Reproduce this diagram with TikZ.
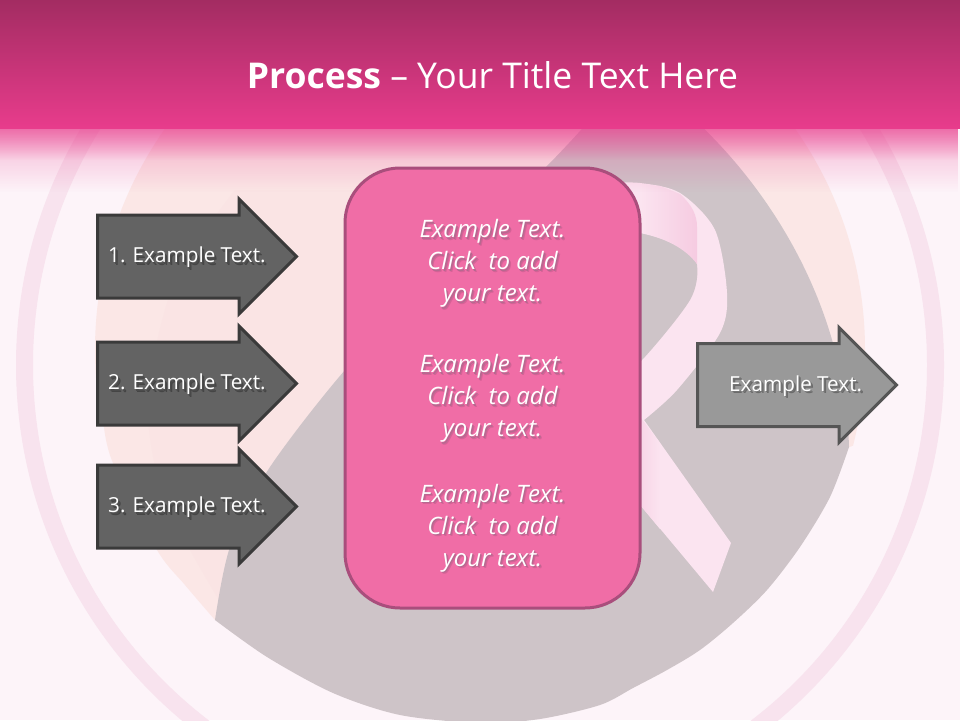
\documentclass[tikz,border=0pt]{standalone}
\usepackage{fontspec}
\setmainfont{Open Sans}
\usepackage{tikz}
\usetikzlibrary{ fadings, positioning, shapes.arrows}
\definecolor{pagepink}{HTML}{FDF4F9}
\definecolor{ringpink}{HTML}{F8E3EE}
\definecolor{discpeach}{HTML}{FBE7E6}
\definecolor{discinner}{HTML}{FAE4E4}
\definecolor{dropgray}{HTML}{CEC4C8}
\definecolor{ribbonpink}{HTML}{FBE4F0}
\definecolor{foldpink}{HTML}{F6CBE1}
\definecolor{headtop}{HTML}{A32C62}
\definecolor{headbot}{HTML}{E83C8C}
\definecolor{panelpink}{HTML}{F06DA6}
\definecolor{paneledge}{HTML}{A94E7C}
\definecolor{darkfill}{HTML}{636363}
\definecolor{darkedge}{HTML}{3A3A3A}
\definecolor{greyfill}{HTML}{999999}
\definecolor{greyedge}{HTML}{555555}
\tikzfading[name=headfadea, top color=transparent!40, bottom color=transparent!100]
\tikzfading[name=headfadeb, top color=transparent!65, bottom color=transparent!100]
% two offset copies stand for the soft text shadow
\newcommand{\softtext}[3]{\leavevmode\rlap{\kern2.4pt\raisebox{-2.4pt}{\color{#2}#3}}\rlap{\kern1.4pt\raisebox{-1.4pt}{\color{#1}#3}}#3}
\newcommand{\panellines}{\softtext{paneledge!85}{paneledge!35!panelpink}{Example Text.}\\\softtext{paneledge!85}{paneledge!35!panelpink}{Click\ \ to add}\\\softtext{paneledge!85}{paneledge!35!panelpink}{your text.}}
\tikzset{
procarrow/.style={shape=single arrow, single arrow head extend=16pt, single arrow tip angle=90, single arrow head indent=0pt, minimum height=199pt, inner xsep=0pt, inner ysep=40pt, line width=3pt, line join=miter}, % common outline of the arrows
inarrow/.style={procarrow, fill=darkfill, draw=darkedge},
outarrow/.style={procarrow, fill=greyfill, draw=greyedge},
armtext/.style={text=white, font=\fontsize{20.7pt}{24pt}\selectfont, inner sep=0pt, yshift=-2pt},
paneltext/.style={text=white, align=center, font=\fontsize{24pt}{32pt}\selectfont\itshape, inner sep=0pt},
}

\begin{document}
\begin{tikzpicture}[x=1pt,y=-1pt]%one unit is one pixel of the reference
  \useasboundingbox (0,0) rectangle (960,720);
  \clip (0,0) rectangle (960,720);
  \fill[pagepink] (0,0) rectangle (960,720);
  \fill[ringpink,even odd rule] (480,365) circle[radius=464] (480,365) circle[radius=447];
  \begin{scope}
    \clip (0,0) -- (960,0) -- (960,417) -- (849,447) -- plot[smooth] coordinates {(215,620) (185,585) (157,550) (113,463) (104,427)} -- (80,400) -- (0,400) -- cycle;
    \fill[discpeach] (480,350) circle[radius=385];
    \clip (480,350) circle[radius=385];
    \fill[discinner] plot[smooth] coordinates {(235,190) (175,280) (148,400) (165,500) (225,610)} -- (500,610) -- (500,190) -- cycle;
  \end{scope}

  % grey drop and ribbon, then the fade of the header over them
  \fill[dropgray] plot[smooth] coordinates {(215,620) (230,547) (268,470) (345,370) (445,265) (545,168) (590,120)}
    -- (695,120) .. controls (775,195) and (845,310) .. (849,447)
    -- plot[smooth] coordinates {(849,447) (830,497) (800,547) (767,590) (733,623) (700,650) (667,670) (633,688) (600,705) (540,719) (480,723) (400,715) (333,693) (267,657) (215,620)} -- cycle;
  \fill[ribbonpink] plot[smooth] coordinates {(600,183) (640,183) (680,193) (715,230) (727,293) (720,333) (677,390) (644,420)}
    -- (731,543) -- (713,592) -- (642,507) -- (600,460) -- cycle;
  \fill[dropgray] plot[smooth] coordinates {(600,228) (642,233) (683,247) (697,265) (690,300) (642,360) (600,395)} -- cycle;
  \shade[left color=ribbonpink,right color=foldpink] (640,184) -- (660,186) -- (680,194) .. controls (692,205) and (697,215) .. (697,227) -- (697,264) .. controls (685,248) and (665,238) .. (640,233) -- cycle;
  \shade[left color=foldpink!60!ribbonpink,right color=ribbonpink] (640,417) -- (660,443) -- (660,529) -- (640,505) -- cycle;
  \fill[headbot,path fading=headfadea] (0,128) rectangle (960,160);
  \fill[headbot,path fading=headfadeb] (0,128) rectangle (960,192);
  \shade[top color=headtop,bottom color=headbot] (0,0) rectangle (960,128);

  \node[text=white, font=\fontsize{35.5pt}{40pt}\selectfont] (title) at (492.5,75) {\textbf{Process} – Your Title Text Here};

  \node[draw=paneledge, fill=panelpink, line width=3pt, rounded corners=55pt, minimum width=295pt, minimum height=440pt] (panel) at (492.5,388) {};
  \node[paneltext, below=53pt of panel.north] (block1) {\panellines};
  \node[paneltext, below=44pt of block1] (block2) {\panellines};
  \node[paneltext, below=39pt of block2] (block3) {\panellines};

  \node[inarrow, anchor=tail] (arrow1) at (96,256.5) {};
  \node[inarrow, below=41pt of arrow1] (arrow2) {};
  \node[inarrow, below=37pt of arrow2] (arrow3) {};
  \node[outarrow, anchor=tail] (arrow4) at (696,385) {};
  \node[armtext, right=12pt of arrow1.tail] (text1) {\softtext{black!70}{darkfill!70!black}{1. Example Text.}};
  \node[armtext, right=12pt of arrow2.tail] (text2) {\softtext{black!70}{darkfill!70!black}{2. Example Text.}};
  \node[armtext, right=12pt of arrow3.tail] (text3) {\softtext{black!70}{darkfill!70!black}{3. Example Text.}};
  \node[armtext, right=33pt of arrow4.tail] (text4) {\softtext{black!55}{greyfill!70!black}{Example Text.}};
\end{tikzpicture}
\end{document}
